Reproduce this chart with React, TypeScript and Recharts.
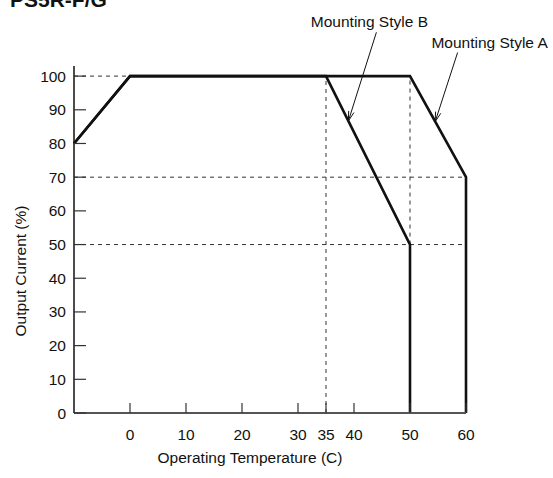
import { Line, LineChart, ReferenceLine, XAxis, YAxis } from 'recharts'

const FONT = "'Liberation Sans', Arial, sans-serif"

const xTicks = [0, 10, 20, 30, 35, 40, 50, 60]
const yTicks = [0, 10, 20, 30, 40, 50, 60, 70, 80, 90, 100]

// derating curves, temperature (C) -> output current (%)
const styleA = [
  { temp: -10, current: 80 },
  { temp: 0, current: 100 },
  { temp: 50, current: 100 },
  { temp: 60, current: 70 },
  { temp: 60, current: 0 },
]
const styleB = [
  { temp: -10, current: 80 },
  { temp: 0, current: 100 },
  { temp: 35, current: 100 },
  { temp: 50, current: 50 },
  { temp: 50, current: 0 },
]

// dashed guides, each a pair of [temp, current] ends
const guides = [
  [[-10, 100], [50, 100]],
  [[-10, 70], [60, 70]],
  [[-10, 50], [60, 50]],
  [[35, 0], [35, 100]],
  [[50, 50], [50, 100]],
]

const callouts = [
  { text: 'Mounting Style B', from: [44, 113], to: [39, 86.7], dx: -7 },
  { text: 'Mounting Style A', from: [58.5, 107], to: [54.5, 86.5], dx: 32 },
]

function calloutShape(text: string, dx: number) {
  return (p: any) => {
    const { x1, y1, x2, y2 } = p
    const ang = Math.atan2(y2 - y1, x2 - x1)
    const len = 10
    const spread = 0.28
    const h1 = `${x2 - len * Math.cos(ang - spread)},${y2 - len * Math.sin(ang - spread)}`
    const h2 = `${x2 - len * Math.cos(ang + spread)},${y2 - len * Math.sin(ang + spread)}`
    return (
      <g>
        <line x1={x1} y1={y1} x2={x2} y2={y2} stroke="#111" strokeWidth={1} />
        <polyline points={`${h1} ${x2},${y2} ${h2}`} fill="none" stroke="#111" strokeWidth={1} />
        <text x={x1 + dx} y={y1 - 5} textAnchor="middle" fontFamily={FONT} fontSize={15.5} fill="#111">
          {text}
        </text>
      </g>
    )
  }
}

const tickStyle = { fill: '#111', fontSize: 15.5, fontFamily: FONT }

export default function App() {
  return (
    <div style={{ position: 'absolute', left: 0, top: 0, width: 553, height: 478, background: '#fff' }}>
      <LineChart width={553} height={478} margin={{ top: 66, right: 87, bottom: 15, left: 14 }}>
        <XAxis
          type="number"
          dataKey="temp"
          domain={[-10, 60]}
          ticks={xTicks}
          interval={0}
          height={50}
          tickSize={-10}
          tickMargin={26}
          axisLine={{ stroke: '#555', strokeWidth: 2 }}
          tickLine={{ stroke: '#333', strokeWidth: 1.2 }}
          tick={tickStyle}
          label={{
            value: 'Operating Temperature (C)',
            position: 'insideBottom',
            offset: 0,
            dx: -20,
            style: { fill: '#111', fontSize: 15.5, fontFamily: FONT },
          }}
        />
        <YAxis
          type="number"
          domain={[0, 103]}
          ticks={yTicks}
          interval={0}
          width={60}
          tickSize={-12}
          tickMargin={20}
          axisLine={{ stroke: '#111', strokeWidth: 1.5 }}
          tickLine={{ stroke: '#333', strokeWidth: 1.2 }}
          tick={tickStyle}
        />
        {guides.map((g, i) => (
          <ReferenceLine
            key={'g' + i}
            segment={[
              { x: g[0][0], y: g[0][1] },
              { x: g[1][0], y: g[1][1] },
            ]}
            stroke="#333"
            strokeWidth={1}
            strokeDasharray="4 4"
            ifOverflow="visible"
          />
        ))}
        <Line data={styleB} dataKey="current" type="linear" stroke="#111" strokeWidth={2.6} dot={false} isAnimationActive={false} />
        <Line data={styleA} dataKey="current" type="linear" stroke="#111" strokeWidth={2.6} dot={false} isAnimationActive={false} />
        {callouts.map((c, i) => (
          <ReferenceLine
            key={'c' + i}
            segment={[
              { x: c.from[0], y: c.from[1] },
              { x: c.to[0], y: c.to[1] },
            ]}
            ifOverflow="visible"
            shape={calloutShape(c.text, c.dx)}
          />
        ))}
      </LineChart>
      <svg width={553} height={478} style={{ position: 'absolute', left: 0, top: 0, pointerEvents: 'none' }}>
        <text x={10} y={7} fontFamily={FONT} fontWeight="bold" fontSize={21} fill="#111">
          PS5R-F/G
        </text>
        <text transform="translate(26, 271) rotate(-90)" textAnchor="middle" fontFamily={FONT} fontSize={15.5} fill="#111">
          Output Current (%)
        </text>
      </svg>
    </div>
  )
}
